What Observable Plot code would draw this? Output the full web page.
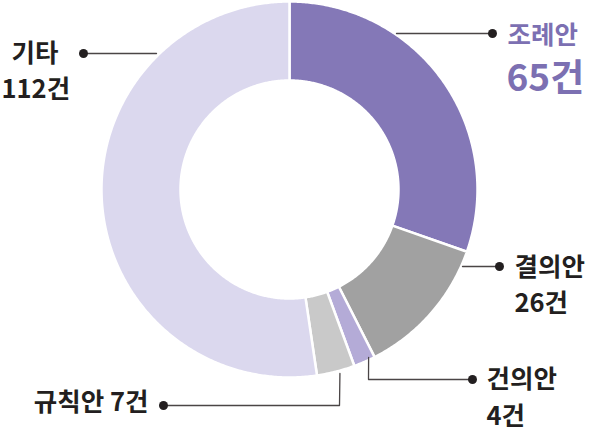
<!DOCTYPE html>
<html>
<head>
<meta charset="utf-8">
<script src="https://cdn.jsdelivr.net/npm/d3@7"></script>
<script src="https://cdn.jsdelivr.net/npm/@observablehq/plot@0.6"></script>
<style>
  html, body { margin: 0; padding: 0; background: #fff; }
  #chart svg { display: block; }
</style>
</head>
<body>
<div id="chart"></div>
<script>
// ---- data ----
const categories = ["조례안", "결의안", "건의안", "규칙안", "기타"];
const counts = [65, 26, 4, 7, 112];
const labelLines = [["조례안", "65건"], ["결의안", "26건"], ["건의안", "4건"], ["규칙안 7건"], ["기타", "112건"]];
const sliceColors = ["#8478b7", "#a1a1a1", "#b4abd7", "#c9c9c9", "#dbd8ee"];

// ---- layout ----
const W = 600, H = 431;
const cx = 289, cy = 189;
const R0 = 109, R1 = 188;
const ink = "#231f20";

const total = d3.sum(counts);
const slices = [];
let acc = 0;
categories.forEach((name, i) => {
  const a0 = acc / total * 2 * Math.PI;
  acc += counts[i];
  const a1 = acc / total * 2 * Math.PI;
  slices.push({name, a0, a1, color: sliceColors[i]});
});

// polygon points for each slice (angles clockwise from 12 o'clock)
const pts = [];
const polar = (r, a) => ({x: r * Math.sin(a), y: -r * Math.cos(a)});
for (const s of slices) {
  const n = Math.max(4, Math.ceil((s.a1 - s.a0) / (Math.PI / 360)));
  const ring = [];
  for (let k = 0; k <= n; k++) ring.push(polar(R1, s.a0 + (s.a1 - s.a0) * k / n));
  for (let k = n; k >= 0; k--) ring.push(polar(R0, s.a0 + (s.a1 - s.a0) * k / n));
  ring.push(ring[0]);
  ring.forEach(p => pts.push({...p, name: s.name, color: s.color}));
}

// leader lines (layout, relative to chart centre)
const mid = s => (s.a0 + s.a1) / 2;
const leaders = [
  {name: "조례안", path: [[107, -156], [203, -156]]},
  {name: "결의안", path: [[173, 77], [210, 77]]},
  {name: "건의안", path: [[polar(R1, mid(slices[2])).x + 4, 168], [79, 190], [183, 190]]},
  {name: "규칙안", path: [[polar(R1, mid(slices[3])).x + 4, 184], [50, 216], [-126, 216]]},
  {name: "기타", path: [[-133, -136], [-206, -136]]}
];
const leaderPts = leaders.flatMap(l => l.path.map(([x, y]) => ({x, y, name: l.name})));
const dots = leaders.map(l => { const p = l.path[l.path.length - 1]; return {x: p[0], y: p[1]}; });

const texts = [
  {t: labelLines[0][0], x: 218, y: -154, size: 25.5, fill: "#7c70b2", anchor: "start"},
  {t: labelLines[0][1], x: 217, y: -110, size: 37, fill: "#7c70b2", anchor: "start"},
  {t: labelLines[1][0], x: 225, y: 78, size: 25.5, fill: ink, anchor: "start"},
  {t: labelLines[1][1], x: 225, y: 114, size: 25.5, fill: ink, anchor: "start"},
  {t: labelLines[2][0], x: 197, y: 190, size: 25.5, fill: ink, anchor: "start"},
  {t: labelLines[2][1], x: 197, y: 227, size: 25.5, fill: ink, anchor: "start"},
  {t: labelLines[3][0], x: -141, y: 213, size: 25.5, fill: ink, anchor: "end"},
  {t: labelLines[4][0], x: -231, y: -136, size: 25.5, fill: ink, anchor: "end"},
  {t: labelLines[4][1], x: -288, y: -100, size: 25.5, fill: ink, anchor: "start"}
];

const font = "'Noto Sans CJK KR', 'Noto Sans', sans-serif";
const textMarks = ["start", "end"].map(a => {
  const d = texts.filter(t => t.anchor === a);
  return Plot.text(d, {
    x: "x", y: "y", text: "t", fill: "fill", fontSize: "size",
    fontWeight: 700, textAnchor: a, lineAnchor: "middle",
    fontFamily: font
  });
});

const chart = Plot.plot({
  width: W, height: H,
  margin: 0,
  x: {domain: [-cx, W - cx], range: [0, W], axis: null},
  y: {domain: [-cy, H - cy], range: [0, H], axis: null},
  style: {fontFamily: font, background: "#fff"},
  marks: [
    Plot.line(pts, {x: "x", y: "y", z: "name", fill: "color", stroke: "#fff", strokeWidth: 2.5, curve: "linear"}),
    Plot.line(leaderPts, {x: "x", y: "y", z: "name", stroke: "#4a4546", strokeWidth: 1.3}),
    Plot.dot(dots, {x: "x", y: "y", r: 4.5, fill: ink, stroke: "none"}),
    ...textMarks
  ]
});
document.getElementById("chart").appendChild(chart);
</script>
</body>
</html>
